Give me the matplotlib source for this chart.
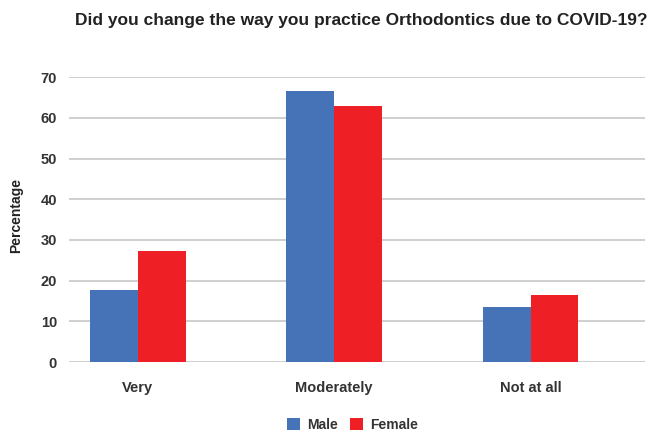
import matplotlib
matplotlib.use("Agg")
import matplotlib.pyplot as plt
import numpy as np

categories = ["Very", "Moderately", "Not at all"]
male = [17.7, 66.7, 13.5]
female = [27.3, 63.0, 16.5]
series_names = ["Male", "Female"]
yticks = [0, 10, 20, 30, 40, 50, 60, 70]

plt.rcParams['font.family'] = ['Liberation Sans', 'DejaVu Sans']

fig = plt.figure(figsize=(6.53, 4.34), dpi=100)
ax = fig.add_axes([69/653, 1-362/434, (645-69)/653, (362-77.3)/434])

x = np.arange(len(categories))
w = 0.244
blue = "#4672B8"
red = "#EE1F25"
ax.bar(x - w/2, male, w, color=blue, label=series_names[0], zorder=3)
ax.bar(x + w/2, female, w, color=red, label=series_names[1], zorder=3)

ax.set_xlim(-0.35, 2.583)
ax.set_ylim(0, 70)
ax.set_yticks(yticks)
ax.yaxis.grid(True, color="#cfcfcf", linewidth=1.4, zorder=0)
ax.set_axisbelow(True)
for s in ax.spines.values():
    s.set_visible(False)
ax.tick_params(axis='y', length=0, pad=8.6, labelsize=10.5, labelcolor="#333333")
ax.tick_params(axis='x', length=0, pad=14, labelsize=10.5, labelcolor="#333333")
ax.set_xticks(x)
ax.set_xticklabels(categories, fontweight='bold')
for lab in ax.get_yticklabels():
    lab.set_fontweight('bold')
ax.set_ylabel("Percentage", fontsize=10, fontweight='bold', color="#222222")
ax.yaxis.set_label_coords(-0.08, 0.516)

fig.text(361.5/653, 1-20/434, "Did you change the way you practice Orthodontics due to COVID-19?",
         ha='center', va='center', fontsize=12.5, fontweight='bold', color="#222222")

leg = fig.legend(loc='center', bbox_to_anchor=(352.5/653, 1-425/434), ncol=2, frameon=False,
                 fontsize=10, handlelength=0.95, handleheight=0.95, handletextpad=0.5,
                 columnspacing=0.86)
for t in leg.get_texts():
    t.set_fontweight('bold')
    t.set_color("#333333")

fig.savefig("out.png", dpi=100)
